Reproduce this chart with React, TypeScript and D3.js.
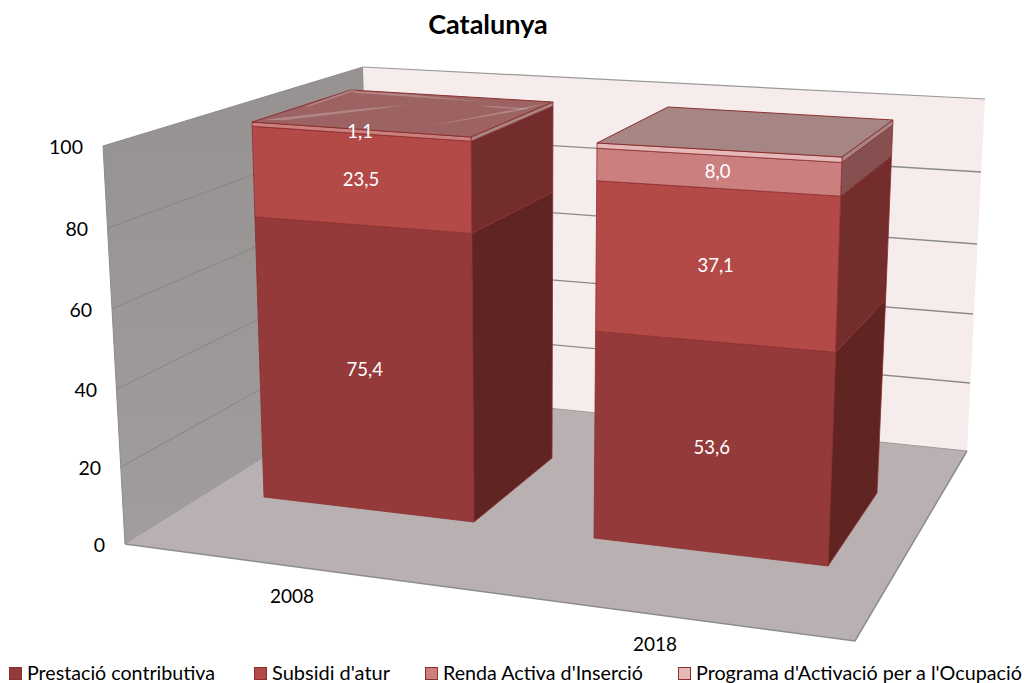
import React from "react";
import * as d3 from "d3";

const title = "Catalunya";
const years = ["2008", "2018"];
const seriesNames = ["Prestació contributiva", "Subsidi d'atur", "Renda Activa d'Inserció", "Programa d'Activació per a l'Ocupació"];
const prestacio = [75.4, 53.6];
const subsidi = [23.5, 37.1];
const renda = [0, 8.0];
const programa = [1.1, 1.3];
const shownLabels = [[true, true, false, true], [true, true, true, false]];
const yTicks = [0, 20, 40, 60, 80, 100];

const FONT = "Lato, 'Open Sans', sans-serif";
const frontColors = ["#953a3a", "#b34a48", "#cc7f7f", "#e6b8b8"];
const sideColors = ["#602523", "#722d2c", "#85504f", "#a58684"];
const topColors = ["#9d6362", "#a68684"];
const edge = "#8b2f2f";

type Pt = [number, number];
// a vertical edge of the 3D scene, as a value -> pixel mapping (perspective makes it slightly non linear)
const vEdge = (domain: number[], xs: number[], ys: number[]) => {
  const x = d3.scaleLinear().domain(domain).range(xs);
  const y = d3.scaleLinear().domain(domain).range(ys);
  return (v: number): Pt => [x(v), y(v)];
};
const wallFront = vEdge(yTicks, [125, 121, 117, 112, 108, 103], [544, 467, 389, 309, 228, 146]);
const wallBack = vEdge(yTicks, [372, 370, 368, 366, 364, 363], [390, 328, 265, 199, 134, 67]);
const wallRight = vEdge(yTicks, [967, 970, 973, 977, 981, 985], [451, 383, 314, 244, 172, 99]);
const floorCorner: Pt = [855, 641];

const mid = [0, 50, 100];
const bars = [
  {
    fl: vEdge(mid, [264, 258, 252], [497, 315, 122]),
    fr: vEdge(mid, [474, 472.5, 471], [522, 333, 137]),
    br: vEdge(mid, [552, 552.5, 553], [458, 285, 102]),
    bl: vEdge(mid, [360, 356, 351], [435, 260, 90]),
  },
  {
    fl: vEdge(mid, [594, 595.5, 597], [538, 346, 143]),
    fr: vEdge(mid, [828, 835, 842], [566, 367.5, 157]),
    br: vEdge(mid, [877, 885, 893], [493, 314, 120]),
    bl: vEdge(mid, [655, 662, 668], [470, 290, 107]),
  },
];

const line = d3.line<Pt>().curve(d3.curveLinearClosed);
const seg = d3.line<Pt>();
const allSeries = [prestacio, subsidi, renda, programa];

// streaks on the top of the first column, in (across, depth) fractions of that face
const glints: Pt[][] = [
  [[0.02, 0.92], [0.25, 0.5], [0.42, 0.3], [0.3, 0.52], [0.1, 0.9]],
  [[0.02, 0.02], [0.3, 0.03], [0.72, 0.1], [0.3, 0.08], [0.05, 0.07]],
  [[0.0, 0.0], [0.025, 0.0], [0.035, 0.5], [0.02, 0.5]],
  [[0.72, 0.2], [0.96, 0.2], [0.96, 0.23], [0.8, 0.23]],
  [[0.72, 0.82], [0.98, 0.05], [0.95, 0.25]],
];

export default function App() {
  const tops = bars[0];
  const t = 100;
  const topAt = (u: number, w: number): Pt => {
    const a = d3.interpolateArray(tops.bl(t) as any, tops.br(t) as any)(u) as any;
    const b = d3.interpolateArray(tops.fl(t) as any, tops.fr(t) as any)(u) as any;
    return d3.interpolateArray(a, b)(w) as any;
  };
  return (
    <svg width={1026} height={683} style={{ position: "absolute", left: 0, top: 0, background: "#fff" }} fontFamily={FONT}>
      <defs>
        <linearGradient id="wallG" x1="0" y1="0" x2="0" y2="1">
          <stop offset="0" stopColor="#979292" />
          <stop offset="1" stopColor="#a19d9c" />
        </linearGradient>
      </defs>
      <text x={488} y={34} textAnchor="middle" fontSize={27} fontWeight={700} fill="#000">{title}</text>

      {/* walls and floor */}
      <path d={line([wallFront(100), wallBack(100), wallBack(0), wallFront(0)])!} fill="url(#wallG)" stroke="#8c8c8c" strokeWidth={1} />
      <path d={line([wallBack(100), wallRight(100), wallRight(0), wallBack(0)])!} fill="#f7ecec" />
      <path d={seg([wallBack(100), wallRight(100)])!} stroke="#9a9a9a" strokeWidth={1.2} fill="none" />
      <path d={line([wallFront(0), wallBack(0), wallRight(0), floorCorner])!} fill="#b9b1b1" />
      <path d={seg([wallFront(0), floorCorner, wallRight(0)])!} stroke="#8c8c8c" strokeWidth={1.5} fill="none" />
      <path d={seg([wallBack(0), wallRight(0)])!} stroke="#9a9a9a" strokeWidth={1} fill="none" />
      {yTicks.filter((v) => v > 0 && v < 100).map((v) => (
        <g key={v}>
          <path d={seg([wallFront(v), wallBack(v)])!} stroke="#858585" strokeWidth={1} fill="none" />
          <path d={seg([wallBack(v), wallRight(v)])!} stroke="#8a8a8a" strokeWidth={1.3} fill="none" />
        </g>
      ))}
      {yTicks.map((v) => {
        const [x, y] = wallFront(v);
        return (
          <text key={v} x={x - 20} y={y + 7.5} textAnchor="end" fontSize={19.5} fill="#000">{v}</text>
        );
      })}

      {/* columns */}
      {bars.map((b, i) => {
        let cum = 0;
        const segs = allSeries.map((s) => {
          const v0 = cum;
          cum += s[i];
          return [v0, cum];
        });
        const top = cum;
        return (
          <g key={years[i]}>
            {segs.map(([v0, v1], k) => v1 > v0 && (
              <g key={k}>
                <path d={line([b.fr(v0), b.br(v0), b.br(v1), b.fr(v1)])!} fill={sideColors[k]} stroke={edge} strokeWidth={0.8} strokeLinejoin="round" />
                <path d={line([b.fl(v0), b.fr(v0), b.fr(v1), b.fl(v1)])!} fill={i === 0 && k === 3 ? frontColors[2] : frontColors[k]} stroke={edge} strokeWidth={0.8} strokeLinejoin="round" />
              </g>
            ))}
            <path d={line([b.fl(top), b.fr(top), b.br(top), b.bl(top)])!} fill={topColors[i]} stroke={edge} strokeWidth={1} strokeLinejoin="round" />
          </g>
        );
      })}
      {glints.map((g, i) => (
        <path key={i} d={line(g.map(([u, w]) => topAt(u, w)))!} fill="#c9b3b1" opacity={0.45} />
      ))}
      {bars.map((b, i) => {
        let cum = 0;
        return allSeries.map((s, k) => {
          const c = cum + s[i] / 2;
          cum += s[i];
          if (!shownLabels[i][k]) return null;
          const [x0, y0] = b.fl(c);
          const [x1, y1] = b.fr(c);
          return (
            <text key={`${i}-${k}`} x={(x0 + x1) / 2 - 1.5} y={(y0 + y1) / 2 + 6.5} textAnchor="middle" fontSize={18.5} fill="#fff">
              {d3.format(".1f")(s[i]).replace(".", ",")}
            </text>
          );
        });
      })}

      {/* category labels */}
      <text x={292} y={603} textAnchor="middle" fontSize={19} fill="#000">{years[0]}</text>
      <text x={655} y={651} textAnchor="middle" fontSize={19} fill="#000">{years[1]}</text>

      {/* legend */}
      {seriesNames.map((n, k) => {
        const xs = [9, 254, 425, 678];
        const widths = [188, 118, 200, 326];
        return (
          <g key={n}>
            <rect x={xs[k] + 0.5} y={667.5} width={12} height={12} fill={frontColors[k]} stroke={edge} strokeWidth={1} />
            <text x={xs[k] + 18} y={680} fontSize={19} fill="#000" textLength={widths[k]} lengthAdjust="spacingAndGlyphs">{n}</text>
          </g>
        );
      })}
    </svg>
  );
}
